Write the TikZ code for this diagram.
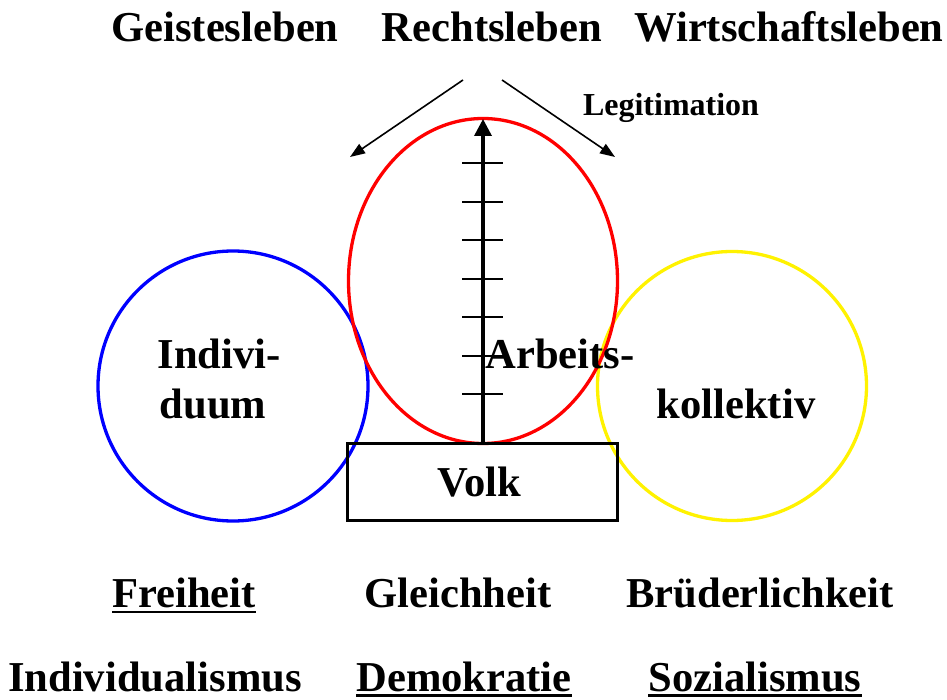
\documentclass[tikz,border=0pt]{standalone}
\usepackage{fontspec}
\setmainfont{Liberation Serif}
\usetikzlibrary{arrows.meta}
\tikzset{
  lbl/.style={font=\fontsize{42.6}{48}\selectfont\bfseries, inner sep=0pt, anchor=base},
  small/.style={font=\fontsize{32}{36}\selectfont\bfseries, inner sep=0pt, anchor=base},
  ring/.style={line width=3.3pt},
  uline/.style={line width=2.5pt}
}
\begin{document}
\begin{tikzpicture}[x=1pt,y=-1pt]
\useasboundingbox (0,0) rectangle (947,700);
% spheres
\draw[ring, blue] (233,386) circle (135);
\draw[ring, yellow] (732,386) circle (134.5);
\draw[ring, red] (483,281) ellipse (134.5 and 162.5);
\node[draw, line width=3pt, minimum width=270, minimum height=77, inner sep=0pt] (volkbox) at (482,481.5) {};
\node[lbl] (volk) at (479,496) {Volk};
% scale
\coordinate (top) at (483,119);
\draw[line width=3.5pt, -{Triangle[length=17pt,width=17pt]}] (volkbox.north -| top) -- (top);
\foreach \y in {163,202,240,279,317,356,394}
  \draw[line width=1.8pt] (462,\y) -- (503,\y);
% headings
\node[lbl] (geist) at (225,42) {Geistesleben};
\node[lbl] (recht) at (492,42) {Rechtsleben};
\node[lbl] (wirt) at (789,42) {Wirtschaftsleben};
\node[small] (legit) at (671,116) {Legitimation};
\coordinate (la) at (463,80);
\coordinate (lb) at (350,157);
\coordinate (ra) at (502,80);
\coordinate (rb) at (615,157);
\draw[line width=1.6pt, -{Triangle[length=15pt,width=11pt]}] (la) -- (lb);
\draw[line width=1.6pt, -{Triangle[length=15pt,width=11pt]}] (ra) -- (rb);
% sphere labels
\node[lbl] (indiv) at (219,368) {Indivi-};
\node[lbl] (duum) at (213,418) {duum};
\node[lbl] (arb) at (560,368) {Arbeits-};
\node[lbl] (koll) at (736,418) {kollektiv};
% values
\node[lbl] (frei) at (184,607) {Freiheit};
\node[lbl] (gleich) at (458,607) {Gleichheit};
\node[lbl] (brued) at (760,607) {Brüderlichkeit};
\node[lbl] (indism) at (155,691) {Individualismus};
\node[lbl] (demo) at (464,691) {Demokratie};
\node[lbl] (sozi) at (755,691) {Sozialismus};
\draw[uline] ([yshift=-5]frei.base west) -- ([yshift=-5]frei.base east);
\draw[uline] ([yshift=-4.5]demo.base west) -- ([yshift=-4.5]demo.base east);
\draw[uline] ([yshift=-4.5]sozi.base west) -- ([yshift=-4.5]sozi.base east);
\end{tikzpicture}
\end{document}
